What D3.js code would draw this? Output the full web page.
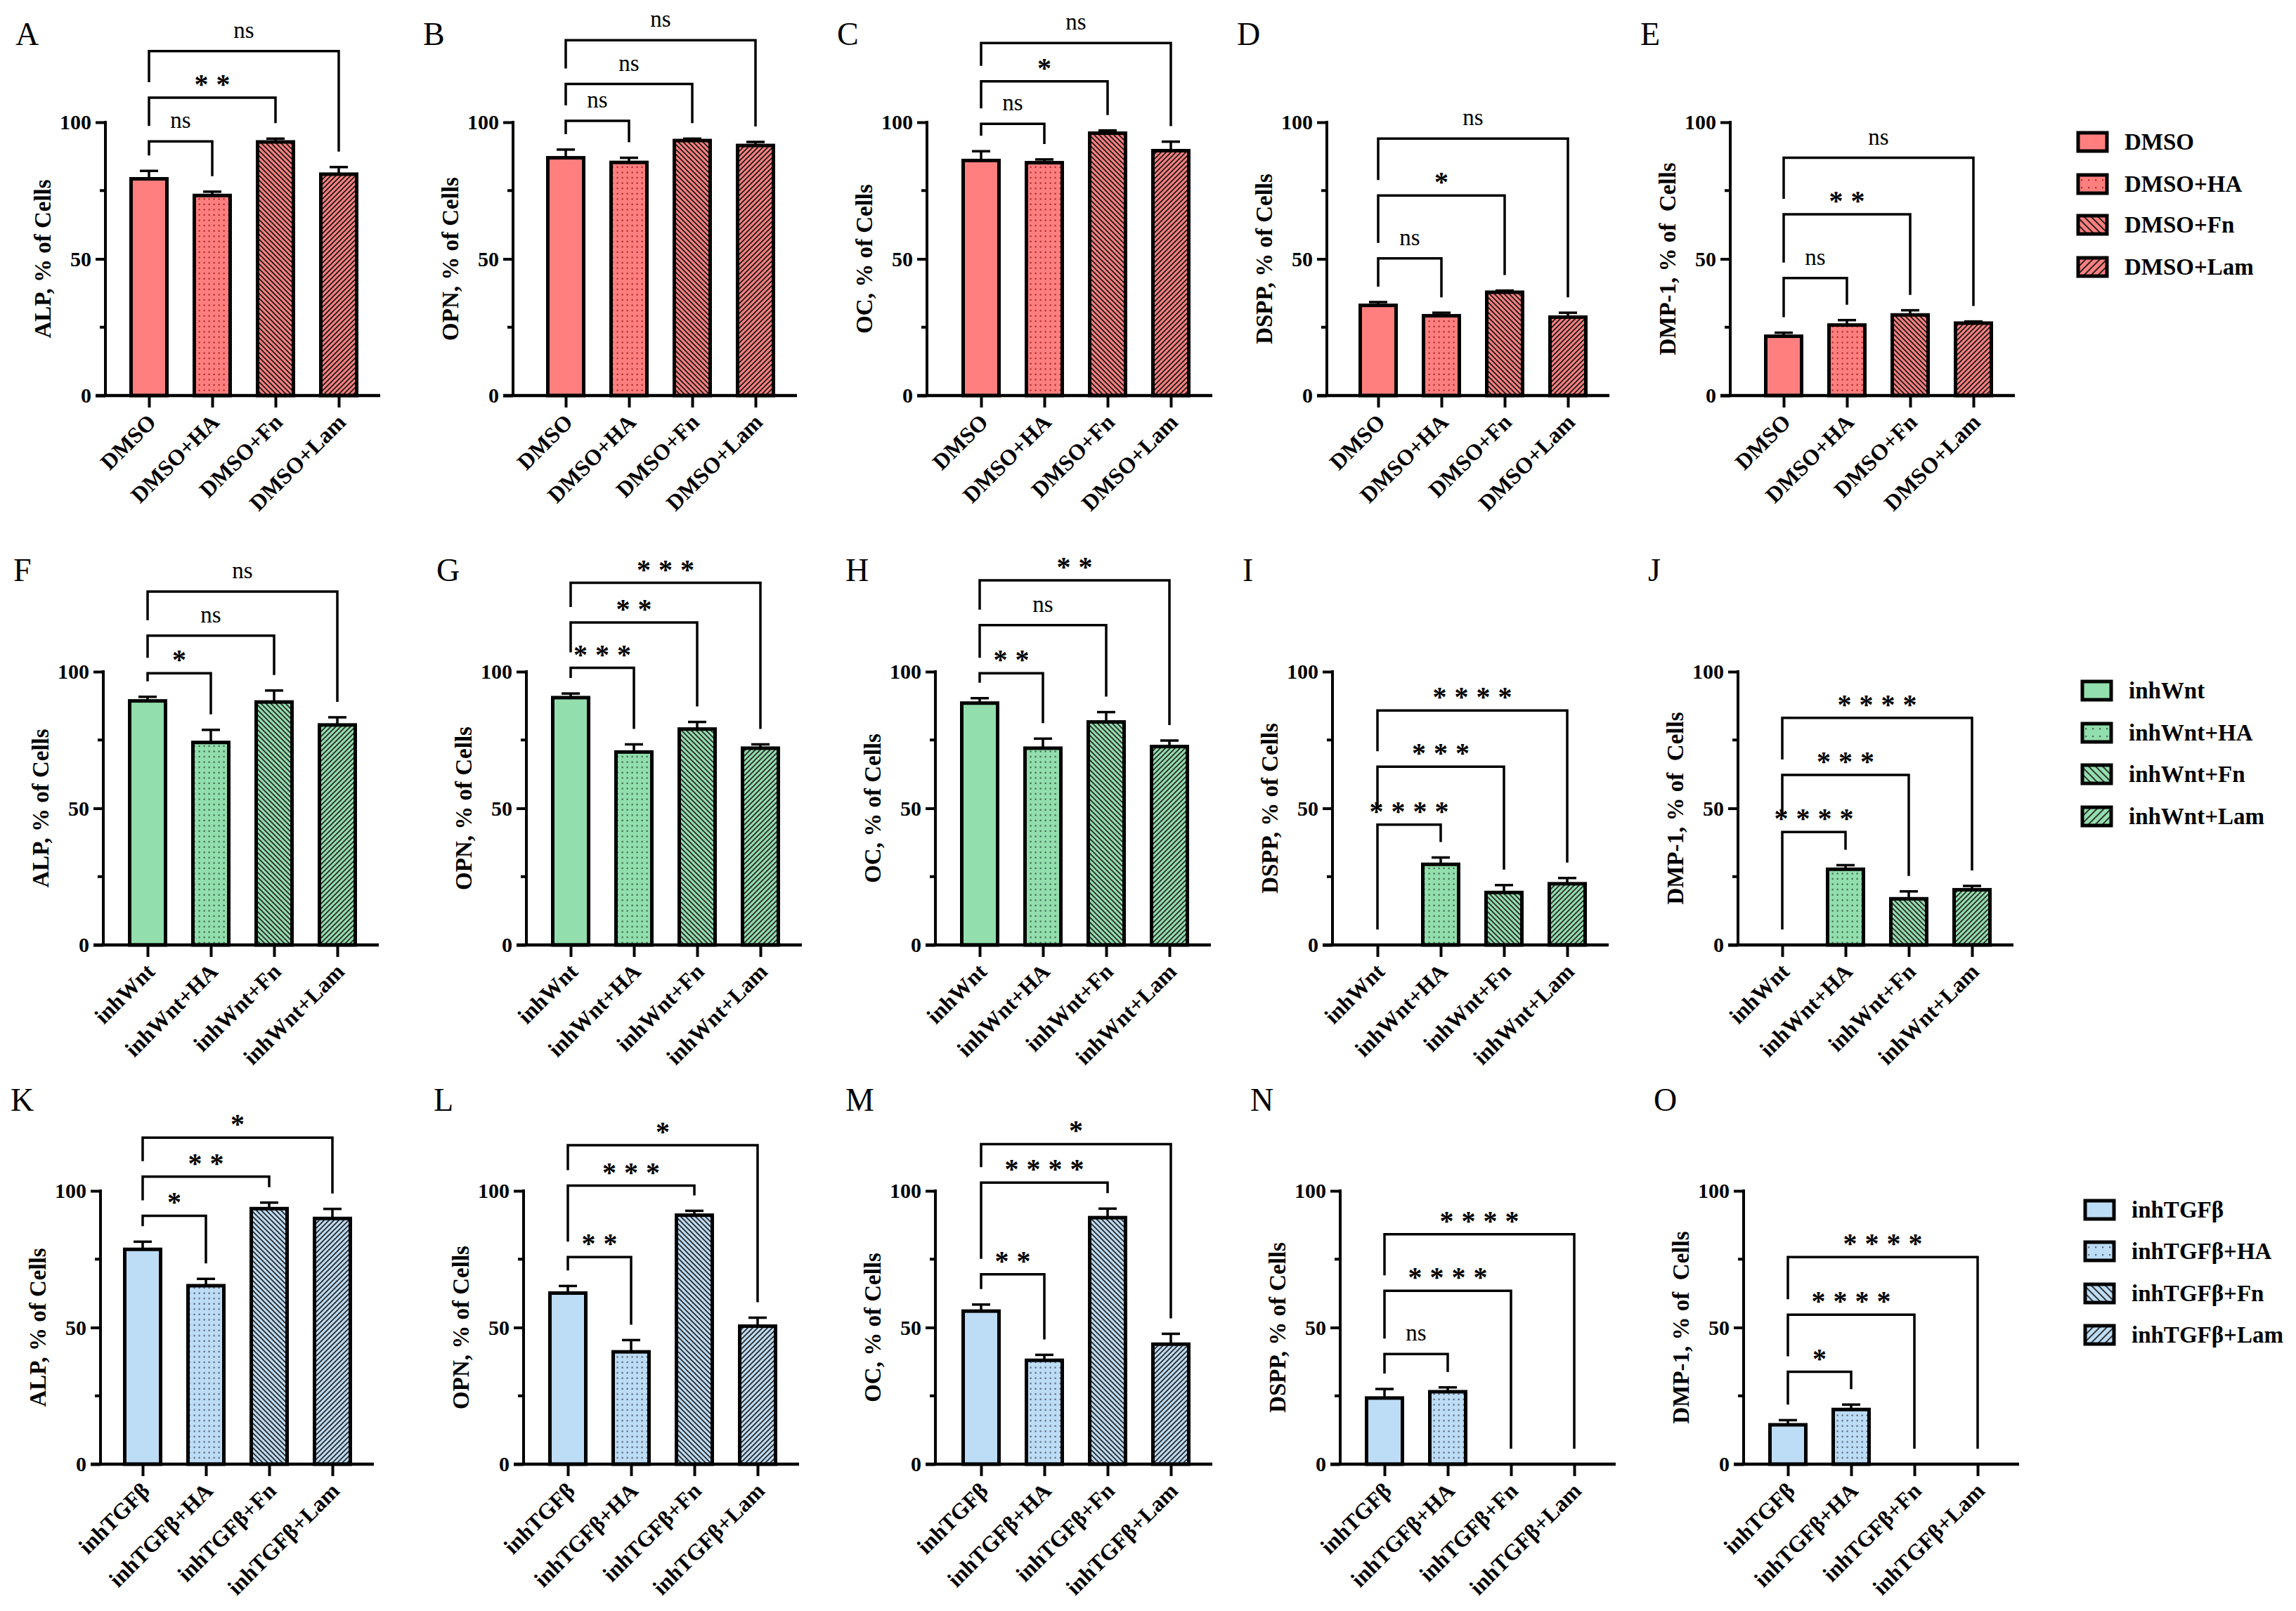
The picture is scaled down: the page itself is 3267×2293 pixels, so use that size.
<!DOCTYPE html>
<html>
<head>
<meta charset="utf-8">
<script src="https://cdn.jsdelivr.net/npm/d3@7"></script>
<style>
  body { margin: 0; background: #fff; }
  svg { display: block; }
  text { font-family: "Liberation Serif", "Times New Roman", serif; }
</style>
</head>
<body>
<div id="chart"></div>
<script>
'use strict';

// groups on the x axis, one list per row
var dmsoGroups = ['DMSO', 'DMSO+HA', 'DMSO+Fn', 'DMSO+Lam'];
var wntGroups = ['inhWnt', 'inhWnt+HA', 'inhWnt+Fn', 'inhWnt+Lam'];
var tgfGroups = ['inhTGF\u03b2', 'inhTGF\u03b2+HA', 'inhTGF\u03b2+Fn', 'inhTGF\u03b2+Lam'];

var yTitles = ['ALP, % of Cells', 'OPN, % of Cells', 'OC, % of Cells', 'DSPP, % of Cells', 'DMP-1, % of  Cells'];
var panelLetters = [['A', 'B', 'C', 'D', 'E'], ['F', 'G', 'H', 'I', 'J'], ['K', 'L', 'M', 'N', 'O']];
var majorTicks = [0, 50, 100];
var minorTicks = [25, 75];

// means (% of cells), one array per panel: ALP, OPN, OC, DSPP, DMP-1
var dmsoMeans = [[79.3, 73.2, 92.8, 81], [87, 85.3, 93.3, 91.5], [86, 85.2, 96, 89.6], [33, 29.2, 37.8, 28.7], [21.7, 25.8, 29.5, 26.5]];
var dmsoSem = [[2.9, 1.4, 1.2, 2.6], [3, 1.7, 0.7, 1.3], [3.4, 1.2, 1, 3.3], [1.2, 1.1, 0.6, 1.6], [1.3, 1.8, 1.7, 0.6]];
var dmsoSig = [['ns', '**', 'ns'], ['ns', 'ns', 'ns'], ['ns', '*', 'ns'], ['ns', '*', 'ns'], ['ns', '**', 'ns']];
var dmsoSigAt = [[93, 109, 126], [100.5, 114, 130], [99.4, 115, 129], [50.2, 73.2, 94], [43, 66.3, 87]];

var wntMeans = [[89.3, 74.1, 88.9, 80.5], [90.5, 70.6, 79, 72], [88.5, 72, 81.6, 72.6], [null, 29.5, 19.2, 22.4], [null, 27.7, 16.9, 20.2]];
var wntSem = [[1.5, 4.6, 4.2, 2.8], [1.5, 2.8, 2.6, 1.4], [1.8, 3.5, 3.6, 2.2], [null, 2.5, 2.7, 2.1], [null, 1.5, 2.7, 1.4]];
var wntSig = [['*', 'ns', 'ns'], ['***', '**', '***'], ['**', 'ns', '**'], ['****', '***', '****'], ['****', '***', '****']];
var wntSigAt = [[99.4, 113.2, 129.3], [101.4, 118, 132.5], [99.4, 117, 133.4], [44, 65.2, 85.8], [41.3, 62.2, 83.1]];

var tgfMeans = [[78.6, 65.3, 93.5, 89.9], [62.6, 41.1, 91.1, 50.5], [56, 38, 90.2, 43.9], [24.2, 26.5, null, null], [14.4, 20, null, null]];
var tgfSem = [[2.8, 2.5, 2.2, 3.5], [2.6, 4.3, 1.6, 3.1], [2.4, 2, 3.3, 3.8], [3.3, 1.6, null, null], [1.7, 1.8, null, null]];
var tgfSig = [['*', '**', '*'], ['**', '***', '*'], ['**', '****', '*'], ['ns', '****', '****'], ['*', '****', '****']];
var tgfSigAt = [[90.9, 105.2, 119.5], [75.8, 101.9, 116.7], [69.5, 103, 117.1], [40.3, 63.4, 84.1], [33.8, 54.7, 75.8]];

var W = 3267, H = 2293;

var rows = [
  { groups: dmsoGroups, means: dmsoMeans, sem: dmsoSem, sig: dmsoSig, sigAt: dmsoSigAt,
    color: 'red', y0: 563, y100: 174, letterY: 64,
    axisX: [150, 730, 1319, 1888, 2462], firstOff: [62, 75, 77, 73, 76],
    legendX: 2957, legendY: [202, 262, 320, 380] },
  { groups: wntGroups, means: wntMeans, sem: wntSem, sig: wntSig, sigAt: wntSigAt,
    color: 'green', y0: 1345, y100: 956, letterY: 827,
    axisX: [147, 749, 1331, 1896, 2473], firstOff: [63, 63, 63, 64, 63],
    legendX: 2963, legendY: [983, 1043, 1102, 1162] },
  { groups: tgfGroups, means: tgfMeans, sem: tgfSem, sig: tgfSig, sigAt: tgfSigAt,
    color: 'blue', y0: 2084, y100: 1695, letterY: 1581,
    axisX: [143, 745, 1331, 1907, 2481], firstOff: [60, 63, 65, 63, 63],
    legendX: 2967, legendY: [1722, 1781, 1841, 1900] }
];

var palettes = {
  red: { fill: '#ff7f7f', dot: '#b02828', ink: '#1a1a1a' },
  green: { fill: '#93dead', dot: '#3c6a4c', ink: '#2a2a2a' },
  blue: { fill: '#bddcf5', dot: '#56677a', ink: '#2a2a2a' }
};
var kinds = ['solid', 'dots', 'back', 'fwd'];

var svg = d3.select('#chart').append('svg')
    .attr('width', W)
    .attr('height', H)
    .attr('viewBox', '0 0 ' + W + ' ' + H);

svg.append('rect').attr('width', W).attr('height', H).attr('fill', '#fff');

var defs = svg.append('defs');

function makePattern(id, kind, pal, s) {
    var p = defs.append('pattern')
        .attr('id', id)
        .attr('patternUnits', 'userSpaceOnUse')
        .attr('width', s)
        .attr('height', kind === 'dots' ? s * 1.08 : s);
    p.append('rect').attr('width', s).attr('height', s * 1.1).attr('fill', pal.fill);
    if (kind === 'dots') {
        p.append('rect').attr('x', s / 2 - 1).attr('y', s / 2 - 1)
            .attr('width', 2.2).attr('height', 2.2).attr('fill', pal.dot);
    } else if (kind === 'back') {
        p.append('path')
            .attr('d', 'M-1,-1L' + (s + 1) + ',' + (s + 1) + 'M-1,' + (s - 1) + 'L1,' + (s + 1) + 'M' + (s - 1) + ',-1L' + (s + 1) + ',1')
            .attr('stroke', pal.ink).attr('stroke-width', 1.9);
    } else if (kind === 'fwd') {
        p.append('path')
            .attr('d', 'M-1,' + (s + 1) + 'L' + (s + 1) + ',-1M-1,1L1,-1M' + (s - 1) + ',' + (s + 1) + 'L' + (s + 1) + ',' + (s - 1))
            .attr('stroke', pal.ink).attr('stroke-width', 1.9);
    }
}

Object.keys(palettes).forEach(function(c) {
    kinds.forEach(function(k) {
        if (k === 'solid') return;
        makePattern('bar-' + c + '-' + k, k, palettes[c], 7);
        makePattern('leg-' + c + '-' + k, k, palettes[c], 10);
    });
});

function fillFor(c, k, where) {
    if (k === 'solid') return palettes[c].fill;
    return 'url(#' + where + '-' + c + '-' + k + ')';
}

function drawStars(g, label, cx, yLine) {
    if (label === 'ns') {
        g.append('text')
            .attr('x', cx).attr('y', yLine - 19)
            .attr('text-anchor', 'middle')
            .attr('font-size', 33)
            .text('ns');
        return;
    }
    var n = label.length;
    d3.range(n).forEach(function(k) {
        g.append('text')
            .attr('x', cx + (k - (n - 1) / 2) * 31)
            .attr('y', yLine - 6)
            .attr('text-anchor', 'middle')
            .attr('font-size', 40)
            .attr('font-weight', 'bold')
            .text('*');
    });
}

function drawPanel(row, col) {
    var ax = row.axisX[col];
    var off = row.firstOff[col];
    var means = row.means[col];
    var sem = row.sem[col];
    var g = svg.append('g');

    var y = d3.scaleLinear().domain([0, 100]).range([row.y0, row.y100]);
    var x = d3.scalePoint().domain(row.groups).range([ax + off, ax + off + 270]);
    var bw = 51, gap = 22;
    var xEnd = ax + off + 270 + 59;

    // panel letter
    g.append('text')
        .attr('x', ax - 128).attr('y', row.letterY)
        .attr('font-size', 46)
        .text(panelLetters[rows.indexOf(row)][col]);

    var bars = row.groups.map(function(name, i) {
        return { name: name, kind: kinds[i], mean: means[i], sem: sem[i] };
    });

    // bars
    g.selectAll('rect.bar')
        .data(bars.filter(function(d) { return d.mean != null; }))
        .enter().append('rect')
        .attr('class', 'bar')
        .attr('x', function(d) { return x(d.name) - bw / 2; })
        .attr('y', function(d) { return y(d.mean); })
        .attr('width', bw)
        .attr('height', function(d) { return y(0) - y(d.mean); })
        .attr('fill', function(d) { return fillFor(row.color, d.kind, 'bar'); })
        .attr('stroke', '#000')
        .attr('stroke-width', 5);

    // error bars (upper only)
    var eb = g.selectAll('g.err')
        .data(bars.filter(function(d) { return d.mean != null; }))
        .enter().append('g')
        .attr('class', 'err')
        .attr('stroke', '#000')
        .attr('stroke-width', 3.5);
    eb.append('line')
        .attr('x1', function(d) { return x(d.name); })
        .attr('x2', function(d) { return x(d.name); })
        .attr('y1', function(d) { return y(d.mean); })
        .attr('y2', function(d) { return y(d.mean + d.sem); });
    eb.append('line')
        .attr('x1', function(d) { return x(d.name) - 13; })
        .attr('x2', function(d) { return x(d.name) + 13; })
        .attr('y1', function(d) { return y(d.mean + d.sem); })
        .attr('y2', function(d) { return y(d.mean + d.sem); });

    // axes
    var yAxis = d3.axisLeft(y).tickValues(majorTicks).tickSize(14).tickPadding(6);
    var ya = g.append('g').attr('transform', 'translate(' + ax + ',0)').call(yAxis);
    ya.select('.domain').remove();
    ya.selectAll('.tick line').attr('stroke', '#000').attr('stroke-width', 4);
    ya.selectAll('.tick text')
        .attr('font-size', 30)
        .attr('font-weight', 'bold')
        .attr('fill', '#000');
    g.selectAll('line.minor')
        .data(minorTicks)
        .enter().append('line')
        .attr('class', 'minor')
        .attr('x1', ax - 8).attr('x2', ax)
        .attr('y1', function(d) { return y(d); })
        .attr('y2', function(d) { return y(d); })
        .attr('stroke', '#000').attr('stroke-width', 4);
    g.append('line')
        .attr('x1', ax).attr('x2', ax)
        .attr('y1', y(100) - 2).attr('y2', y(0))
        .attr('stroke', '#000').attr('stroke-width', 4);

    var xAxis = d3.axisBottom(x).tickSize(17).tickFormat('');
    var xa = g.append('g').attr('transform', 'translate(0,' + y(0) + ')').call(xAxis);
    xa.select('.domain').remove();
    xa.selectAll('.tick line').attr('stroke', '#000').attr('stroke-width', 4);
    g.append('line')
        .attr('x1', ax - 14).attr('x2', xEnd)
        .attr('y1', y(0)).attr('y2', y(0))
        .attr('stroke', '#000').attr('stroke-width', 4.5);

    g.selectAll('text.xlab')
        .data(row.groups)
        .enter().append('text')
        .attr('class', 'xlab')
        .attr('transform', function(d) { return 'translate(' + (x(d) + 4) + ',' + (y(0) + 32) + ') rotate(-45)'; })
        .attr('text-anchor', 'end')
        .attr('dy', '0.35em')
        .attr('font-size', 32)
        .attr('font-weight', 'bold')
        .text(function(d) { return d; });

    // y title
    g.append('text')
        .attr('transform', 'translate(' + (ax - 90) + ',' + ((y(0) + y(100)) / 2) + ') rotate(-90)')
        .attr('text-anchor', 'middle')
        .attr('dy', '0.35em')
        .attr('font-size', 33)
        .attr('font-weight', 'bold')
        .style('white-space', 'pre')
        .text(yTitles[col]);

    // comparison brackets vs first group
    function topAt(i) {
        var b = bars[i];
        return b.mean == null ? y(0) : y(b.mean + b.sem);
    }
    row.sig[col].forEach(function(label, k) {
        var j = k + 1;
        var yl = y(row.sigAt[col][k]);
        var leftEnd = (k === 0 ? topAt(0) : y(row.sigAt[col][k - 1])) - gap;
        var rightEnd = topAt(j) - gap;
        var x0 = x(row.groups[0]), x1 = x(row.groups[j]);
        g.append('path')
            .attr('d', 'M' + x0 + ',' + leftEnd + 'V' + yl + 'H' + x1 + 'V' + rightEnd)
            .attr('fill', 'none')
            .attr('stroke', '#000')
            .attr('stroke-width', 3.5);
        drawStars(g, label, (x0 + x1) / 2, yl);
    });
}

function drawLegend(row) {
    var lg = svg.append('g');
    var items = lg.selectAll('g.item')
        .data(row.groups)
        .enter().append('g')
        .attr('class', 'item')
        .attr('transform', function(d, i) { return 'translate(' + row.legendX + ',' + row.legendY[i] + ')'; });
    items.append('rect')
        .attr('x', 0).attr('y', -13)
        .attr('width', 41).attr('height', 26)
        .attr('fill', function(d, i) { return fillFor(row.color, kinds[i], 'leg'); })
        .attr('stroke', '#000')
        .attr('stroke-width', 5);
    items.append('text')
        .attr('x', 66).attr('y', 11)
        .attr('font-size', 33)
        .attr('font-weight', 'bold')
        .text(function(d) { return d; });
}

rows.forEach(function(row) {
    d3.range(5).forEach(function(col) { drawPanel(row, col); });
    drawLegend(row);
});
</script>
</body>
</html>
